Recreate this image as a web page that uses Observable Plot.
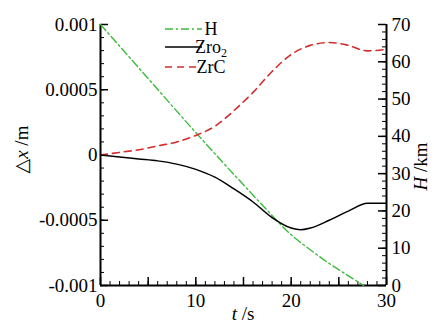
<!DOCTYPE html>
<html>
<head>
<meta charset="utf-8">
<script src="https://cdn.jsdelivr.net/npm/d3@7"></script>
<script src="https://cdn.jsdelivr.net/npm/@observablehq/plot@0.6"></script>
<style>
  html, body { margin: 0; padding: 0; background: #fff; }
  #chart svg { display: block; }
  #chart svg text { font-family: "Liberation Serif", "DejaVu Serif", serif; }
</style>
</head>
<body>
<div id="chart"></div>
<script>
// ---- data ----
const tZro2 = [0, 2, 4, 6, 8, 10, 12, 14, 16, 18, 20, 21, 22, 24, 26, 28, 30];
const dxZro2 = [0, -0.000015, -0.00003, -0.000045, -0.00007, -0.00011, -0.00017, -0.00026, -0.00036, -0.00048, -0.00056, -0.000573, -0.00056, -0.0005, -0.00043, -0.00037, -0.00037];

const tZrC = [0, 2, 4, 6, 8, 10, 12, 14, 16, 18, 20, 22, 24, 26, 28, 30];
const dxZrC = [0, 0.00002, 0.00004, 0.00007, 0.0001, 0.00015, 0.00022, 0.00034, 0.00048, 0.00064, 0.00077, 0.00084, 0.000862, 0.00084, 0.000798, 0.00081];

const tH = [0, 5, 10, 15, 17, 20, 22, 24, 26, 27.6];
const hKm = [70, 55.5, 41, 27, 21.5, 13.6, 9.6, 5.9, 2.6, 0];

const xTicks = [0, 10, 20, 30];
const yTicks = [-0.001, -0.0005, 0, 0.0005, 0.001];
const yTickLabels = ["-0.001", "-0.0005", "0", "0.0005", "0.001"];
const hTicks = [0, 10, 20, 30, 40, 50, 60, 70];
const seriesNames = ["H", "Zro2", "ZrC"];

// ---- layout ----
const W = 434, Hh = 322;
const mL = 100, mR = 48, mT = 24, mB = 37;
const pw = W - mL - mR, ph = Hh - mT - mB;
const font = "\"Liberation Serif\", \"DejaVu Serif\", serif";
const green = "#3dbb3d", red = "#d62b2b";

const yMin = -0.001, yMax = 0.001, hMax = 70;
const hToY = h => yMin + (h / hMax) * (yMax - yMin);

const zro2 = tZro2.map((t, i) => ({t, v: dxZro2[i]}));
const zrc = tZrC.map((t, i) => ({t, v: dxZrC[i]}));
const hData = tH.map((t, i) => ({t, v: hToY(hKm[i])}));

const range = (a, b, s) => d3.range(a, b + s / 2, s).map(v => +v.toFixed(10));
const xMajor = range(0, 30, 5), xMinor = range(0, 30, 1);
const yMajor = yTicks, yMinor = range(-0.001, 0.001, 0.0001);
const hMajor = hTicks.map(hToY), hMinor = range(0, 70, 2).map(hToY);

const majLen = 8, minLen = 4;

const plot = Plot.plot({
  width: W, height: Hh,
  marginLeft: mL, marginRight: mR, marginTop: mT, marginBottom: mB,
  style: {fontFamily: font, fontSize: "19px", background: "#fff", color: "#000"},
  x: {domain: [0, 30]},
  y: {domain: [yMin, yMax]},
  marks: [
    // ticks (inward)
    Plot.tickX(xMinor, {x: d => d, insetTop: ph - minLen, stroke: "#000", strokeWidth: 1}),
    Plot.tickX(xMajor, {x: d => d, insetTop: ph - majLen, stroke: "#000", strokeWidth: 1.5}),
    Plot.tickY(yMinor, {y: d => d, insetRight: pw - minLen, stroke: "#000", strokeWidth: 1}),
    Plot.tickY(yMajor, {y: d => d, insetRight: pw - majLen, stroke: "#000", strokeWidth: 1.5}),
    Plot.tickY(hMinor, {y: d => d, insetLeft: pw - minLen, stroke: "#000", strokeWidth: 1}),
    Plot.tickY(hMajor, {y: d => d, insetLeft: pw - majLen, stroke: "#000", strokeWidth: 1.5}),
    // tick labels
    Plot.axisX(xTicks, {tickSize: 0, tickPadding: 8, label: null, fontSize: 19}),
    Plot.axisY(yTicks, {anchor: "left", tickSize: 0, tickPadding: 3, label: null, fontSize: 19,
      tickFormat: d => yTickLabels[yTicks.indexOf(d)]}),
    Plot.axisY(hTicks.map(hToY), {anchor: "right", tickSize: 0, tickPadding: 5, label: null, fontSize: 19,
      tickFormat: (d, i) => String(hTicks[i])}),
    // frame lines: left, bottom, right
    Plot.ruleX([0, 30], {stroke: "#000", strokeWidth: 2}),
    Plot.ruleY([yMin], {stroke: "#000", strokeWidth: 2}),
    // series
    Plot.line(hData, {x: "t", y: "v", stroke: green, strokeWidth: 1.4, strokeDasharray: "8,3,2,3", curve: "monotone-x"}),
    Plot.line(zrc, {x: "t", y: "v", stroke: red, strokeWidth: 1.6, strokeDasharray: "7,5", curve: "monotone-x"}),
    Plot.line(zro2, {x: "t", y: "v", stroke: "#000", strokeWidth: 1.5, curve: "monotone-x"})
  ]
});
document.getElementById("chart").appendChild(plot);

// ---- axis titles & legend ----
const svg = d3.select(plot);
const tf = svg.append("g").attr("font-family", font).attr("font-size", 19).attr("fill", "#000");

const lt = tf.append("text").attr("transform", `translate(28,${mT + ph / 2 - 5}) rotate(-90)`).attr("text-anchor", "middle");
lt.append("tspan").text("△");
lt.append("tspan").attr("font-style", "italic").text("x");
lt.append("tspan").text(" /m");

const rt = tf.append("text").attr("transform", `translate(427,${mT + ph / 2 + 12}) rotate(-90)`).attr("text-anchor", "middle");
rt.append("tspan").attr("font-style", "italic").text("H");
rt.append("tspan").text(" /km");

const bt = tf.append("text").attr("x", mL + pw / 2).attr("y", Hh - 2).attr("text-anchor", "middle");
bt.append("tspan").attr("font-style", "italic").text("t");
bt.append("tspan").text(" /s");

const leg = [
  {name: seriesNames[0], stroke: green, dash: "8,3,2,3", y: 29},
  {name: seriesNames[1], stroke: "#000", dash: null, y: 47},
  {name: seriesNames[2], stroke: red, dash: "7,5", y: 67}
];
const lg = svg.append("g");
leg.forEach(d => {
  lg.append("line").attr("x1", 165).attr("x2", 202).attr("y1", d.y).attr("y2", d.y)
    .attr("stroke", d.stroke).attr("stroke-width", 1.6).attr("stroke-dasharray", d.dash);
  const tx = lg.append("text").attr("x", 211).attr("y", d.y + 6)
    .attr("font-family", font).attr("font-size", 18).attr("fill", "#000");
  if (d.name === "Zro2") {
    tx.append("tspan").text("Zro");
    tx.append("tspan").attr("font-size", 12).attr("dy", 4).text("2");
  } else {
    tx.text(d.name);
  }
});
</script>
</body>
</html>
